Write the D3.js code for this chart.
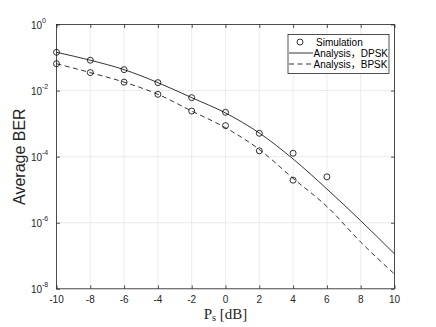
<!DOCTYPE html>
<html>
<head>
<meta charset="utf-8">
<script src="https://cdn.jsdelivr.net/npm/d3@7"></script>
<style>
  body { margin: 0; background: #fff; }
  text { font-family: "Liberation Sans", Arial, "Noto Sans CJK SC", sans-serif; }
</style>
</head>
<body>
<div id="chart"></div>
<script>
// Analysis curves (Ps in dB)
const psAnalysis = [-10, -8, -6, -4, -2, 0, 2, 4, 6, 8, 10];
const berDPSK = [0.144, 0.083, 0.043, 0.0174, 0.0061, 0.0021, 5.2e-4, 8.5e-5, 1.05e-5, 1.15e-6, 1.14e-7];
const berBPSK = [0.065, 0.035, 0.018, 0.0077, 0.0024, 7.5e-4, 1.65e-4, 2.2e-5, 3.1e-6, 2.6e-7, 2.8e-8];

// Simulation points
const psSimDPSK = [-10, -8, -6, -4, -2, 0, 2, 4, 6];
const simDPSK = [0.144, 0.083, 0.043, 0.0174, 0.0061, 0.0022, 5.1e-4, 1.27e-4, 2.45e-5];
const psSimBPSK = [-10, -8, -6, -4, -2, 0, 2, 4];
const simBPSK = [0.065, 0.035, 0.018, 0.0077, 0.0024, 8.7e-4, 1.5e-4, 1.94e-5];

const xTicks = [-10, -8, -6, -4, -2, 0, 2, 4, 6, 8, 10];
const yTickExp = [0, -2, -4, -6, -8];
const legendLabels = ["Simulation", "Analysis\uFF0CDPSK", "Analysis\uFF0CBPSK"];

const width = 436, height = 327;
const pLeft = 56.5, pRight = 394.5, pTop = 24.5, pBottom = 288.8;
const axisColor = "#262626";

const svg = d3.select("#chart")
    .append("svg")
    .attr("width", width)
    .attr("height", height);

const x = d3.scaleLinear().domain([-10, 10]).range([pLeft, pRight]);
const y = d3.scaleLog().domain([1e-8, 1]).range([pBottom, pTop]);

// grid
svg.append("g")
    .selectAll("line")
    .data(xTicks)
    .enter()
    .append("line")
    .attr("x1", d => x(d)).attr("x2", d => x(d))
    .attr("y1", pTop).attr("y2", pBottom)
    .attr("stroke", "#e6e6e6").attr("stroke-width", 0.8);

svg.append("g")
    .selectAll("line")
    .data(yTickExp)
    .enter()
    .append("line")
    .attr("x1", pLeft).attr("x2", pRight)
    .attr("y1", d => y(Math.pow(10, d))).attr("y2", d => y(Math.pow(10, d)))
    .attr("stroke", "#e6e6e6").attr("stroke-width", 0.8);

// axes with inward ticks, box on
const yVals = yTickExp.map(e => Math.pow(10, e));
const xAxisB = d3.axisBottom(x).tickValues(xTicks).tickSize(-3.5).tickFormat("");
const xAxisT = d3.axisTop(x).tickValues(xTicks).tickSize(-3.5).tickFormat("");
const yAxisL = d3.axisLeft(y).tickValues(yVals).tickSize(-3.5).tickFormat("");
const yAxisR = d3.axisRight(y).tickValues(yVals).tickSize(-3.5).tickFormat("");

function styleAxis(g) {
    g.select(".domain").remove();
    g.selectAll("line").attr("stroke", axisColor).attr("stroke-width", 0.8);
}
svg.append("g").attr("transform", "translate(0," + pBottom + ")").call(xAxisB).call(styleAxis);
svg.append("g").attr("transform", "translate(0," + pTop + ")").call(xAxisT).call(styleAxis);
svg.append("g").attr("transform", "translate(" + pLeft + ",0)").call(yAxisL).call(styleAxis);
svg.append("g").attr("transform", "translate(" + pRight + ",0)").call(yAxisR).call(styleAxis);
svg.append("rect")
    .attr("x", pLeft).attr("y", pTop)
    .attr("width", pRight - pLeft).attr("height", pBottom - pTop)
    .attr("fill", "none").attr("stroke", axisColor).attr("stroke-width", 0.8);

// tick labels
svg.append("g")
    .selectAll("text")
    .data(xTicks)
    .enter()
    .append("text")
    .attr("x", d => x(d))
    .attr("y", 302.8)
    .attr("text-anchor", "middle")
    .attr("font-size", 10)
    .attr("fill", axisColor)
    .text(d => d);

svg.append("g")
    .selectAll("text")
    .data(yTickExp)
    .enter()
    .append("text")
    .attr("x", 42)
    .attr("y", d => y(Math.pow(10, d)) + 4)
    .attr("text-anchor", "end")
    .attr("font-size", 10)
    .attr("fill", axisColor)
    .text("10");
svg.append("g")
    .selectAll("text")
    .data(yTickExp)
    .enter()
    .append("text")
    .attr("x", 42)
    .attr("y", d => y(Math.pow(10, d)) - 1.5)
    .attr("font-size", 7)
    .attr("fill", axisColor)
    .text(d => d === 0 ? "0" : "-" + Math.abs(d));

// axis titles
svg.append("text")
    .attr("transform", "translate(25," + ((pTop + pBottom) / 2) + ") rotate(-90)")
    .attr("text-anchor", "middle")
    .attr("font-size", 16)
    .attr("fill", axisColor)
    .text("Average BER");

const xTitle = svg.append("text")
    .attr("x", (pLeft + pRight) / 2)
    .attr("y", 318.5)
    .attr("text-anchor", "middle")
    .attr("font-size", 15)
    .attr("fill", axisColor)
    .style("font-family", "'Liberation Serif', 'Times New Roman', serif");
xTitle.append("tspan").text("P");
xTitle.append("tspan").attr("font-size", 10.5).attr("dy", 2.5).text("s");
xTitle.append("tspan").attr("dy", -2.5).text(" [dB]");

// analysis lines
const line = d3.line()
    .x(d => x(d[0]))
    .y(d => y(d[1]))
    .curve(d3.curveMonotoneX);

svg.append("path")
    .attr("d", line(d3.zip(psAnalysis, berDPSK)))
    .attr("fill", "none").attr("stroke", "#000").attr("stroke-width", 0.8);

svg.append("path")
    .attr("d", line(d3.zip(psAnalysis, berBPSK)))
    .attr("fill", "none").attr("stroke", "#000").attr("stroke-width", 0.8)
    .attr("stroke-dasharray", "5,3.5");

// simulation markers
const sims = d3.zip(psSimDPSK, simDPSK).concat(d3.zip(psSimBPSK, simBPSK));
svg.append("g")
    .selectAll("circle")
    .data(sims)
    .enter()
    .append("circle")
    .attr("cx", d => x(d[0]))
    .attr("cy", d => y(d[1]))
    .attr("r", 3)
    .attr("fill", "none")
    .attr("stroke", "#000")
    .attr("stroke-width", 0.8);

// legend
const lg = svg.append("g");
lg.append("rect")
    .attr("x", 288).attr("y", 34.5)
    .attr("width", 101).attr("height", 39)
    .attr("fill", "#fff").attr("stroke", axisColor).attr("stroke-width", 0.8);
lg.append("circle")
    .attr("cx", 300).attr("cy", 42).attr("r", 3)
    .attr("fill", "none").attr("stroke", "#000").attr("stroke-width", 0.8);
lg.append("line")
    .attr("x1", 289).attr("x2", 313).attr("y1", 53).attr("y2", 53)
    .attr("stroke", "#000").attr("stroke-width", 0.8);
lg.append("line")
    .attr("x1", 289).attr("x2", 313).attr("y1", 64).attr("y2", 64)
    .attr("stroke", "#000").attr("stroke-width", 0.8)
    .attr("stroke-dasharray", "5,3.5");
lg.selectAll("text.leg")
    .data(legendLabels)
    .enter()
    .append("text")
    .attr("class", "leg")
    .attr("x", (d, i) => i === 0 ? 316 : 313.5)
    .attr("y", (d, i) => 45.5 + i * 11)
    .attr("font-size", 10)
    .attr("fill", "#000")
    .text(d => d);
</script>
</body>
</html>
